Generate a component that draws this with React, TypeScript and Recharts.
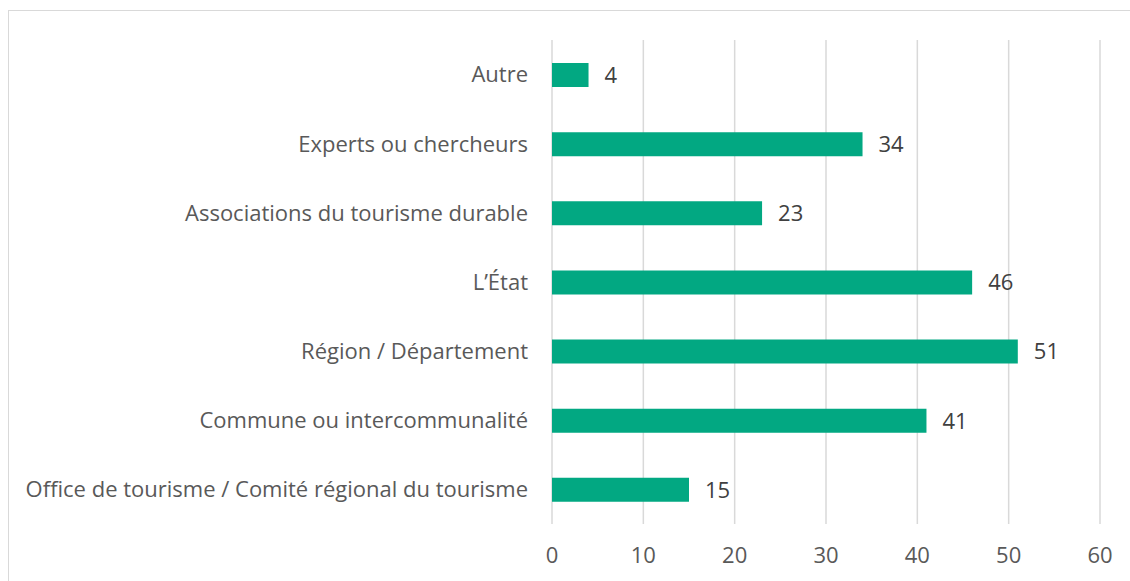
import React from "react";
import { BarChart, Bar, XAxis, YAxis, CartesianGrid, LabelList } from "recharts";

const categories = [
  "Autre",
  "Experts ou chercheurs",
  "Associations du tourisme durable",
  "L’État",
  "Région / Département",
  "Commune ou intercommunalité",
  "Office de tourisme / Comité régional du tourisme",
];

const counts = [4, 34, 23, 46, 51, 41, 15];

const xTicks = [0, 10, 20, 30, 40, 50, 60];

const data = categories.map((name, i) => ({ name, value: counts[i] }));

const font = "'Open Sans', 'Noto Sans', sans-serif";

const App = () => {
  return (
    <div
      style={{
        position: "absolute",
        left: 0,
        top: 0,
        width: 1130,
        height: 581,
        background: "#fff",
        fontFamily: font,
        overflow: "hidden",
      }}
    >
      <div
        style={{
          position: "absolute",
          left: 8,
          top: 10,
          width: 1200,
          height: 700,
          border: "1.5px solid #d9d9d9",
        }}
      />
      <div style={{ position: "absolute", left: 0, top: 0 }}>
        <BarChart
          width={1130}
          height={581}
          data={data}
          layout="vertical"
          margin={{ top: 40, right: 30, bottom: 0, left: 8 }}
          barCategoryGap="32%"
        >
          <CartesianGrid horizontal={false} stroke="#d9d9d9" strokeWidth={1.5} />
          <XAxis
            type="number"
            domain={[0, 60]}
            ticks={xTicks}
            axisLine={false}
            tickLine={false}
            tickSize={0}
            tickMargin={23}
            height={57}
            tick={{ fill: "#595959", fontSize: 22, fontFamily: font }}
          />
          <YAxis
            type="category"
            dataKey="name"
            width={544}
            axisLine={false}
            tickLine={false}
            tickSize={0}
            tickMargin={24}
            interval={0}
            tick={{ fill: "#595959", fontSize: 22, fontFamily: font }}
          />
          <Bar dataKey="value" fill="#02a882" barSize={24} isAnimationActive={false}>
            <LabelList
              dataKey="value"
              position="right"
              offset={16}
              fill="#404040"
              fontSize={22}
              fontFamily={font}
            />
          </Bar>
        </BarChart>
      </div>
    </div>
  );
};

export default App;
